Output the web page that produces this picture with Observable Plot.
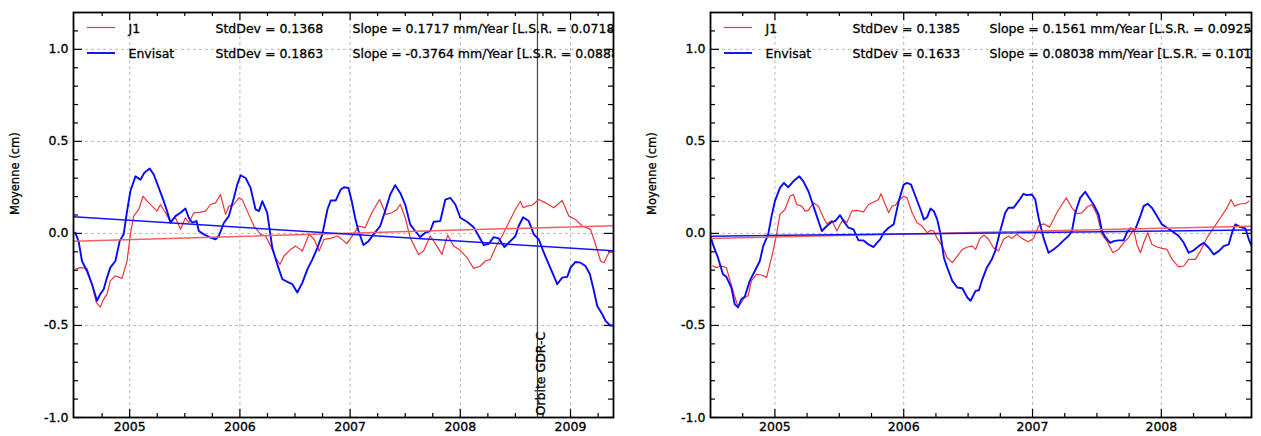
<!DOCTYPE html>
<html><head><meta charset="utf-8">
<script src="https://cdn.jsdelivr.net/npm/d3@7"></script>
<script src="https://cdn.jsdelivr.net/npm/@observablehq/plot@0.6"></script>
<style>
html,body{margin:0;padding:0;background:#fff;}
#wrap{display:flex;width:1261px;height:436px;overflow:hidden;}
#wrap svg{display:block;}
</style></head><body><div id="wrap"></div>
<script>
// ---------- DATA ----------
const seriesNames = ["J1", "Envisat"];
const xTickYearsLeft = [2005, 2006, 2007, 2008, 2009];
const xTickYearsRight = [2005, 2006, 2007, 2008];
const yTickValues = [-1.0, -0.5, 0.0, 0.5, 1.0];

const stdDevLeft = [0.1368, 0.1863];
const slopeLeft = [0.1717, -0.3764];      // mm/Year
const lsrLeft = ["0.07189]", "0.0888]"];
const stdDevRight = [0.1385, 0.1633];
const slopeRight = [0.1561, 0.08038];     // mm/Year
const lsrRight = ["0.09254]", "0.1012]"];

const trendStartLeft = [-0.042, 0.090];   // cm at left edge
const trendStartRight = [-0.027, -0.015];

const orbitChangeYear = 2008.70;
const orbitLabel = "Orbite GDR-C";

const j1Left = [[2004.506,-0.195],[2004.552,-0.186],[2004.612,-0.19],[2004.658,-0.276],[2004.697,-0.375],[2004.733,-0.40],[2004.764,-0.357],[2004.794,-0.33],[2004.824,-0.258],[2004.870,-0.23],[2004.930,-0.244],[2004.976,-0.15],[2005.006,-0.005],[2005.036,0.094],[2005.082,0.13],[2005.121,0.202],[2005.158,0.175],[2005.203,0.148],[2005.248,0.121],[2005.279,0.157],[2005.324,0.112],[2005.370,0.067],[2005.415,0.085],[2005.461,0.022],[2005.506,0.085],[2005.536,0.058],[2005.582,0.112],[2005.642,0.116],[2005.688,0.121],[2005.733,0.157],[2005.779,0.166],[2005.824,0.211],[2005.870,0.103],[2005.900,0.148],[2005.945,0.157],[2005.991,0.193],[2006.021,0.184],[2006.067,0.121],[2006.127,0.04],[2006.188,-0.005],[2006.233,-0.014],[2006.279,-0.069],[2006.324,-0.132],[2006.364,-0.168],[2006.400,-0.123],[2006.461,-0.087],[2006.506,-0.069],[2006.567,-0.096],[2006.627,-0.005],[2006.673,-0.032],[2006.718,-0.096],[2006.764,-0.032],[2006.824,-0.027],[2006.885,-0.014],[2006.945,-0.042],[2006.970,-0.056],[2007.030,-0.005],[2007.076,0.04],[2007.136,0.031],[2007.197,0.112],[2007.267,0.184],[2007.327,0.103],[2007.379,0.112],[2007.424,0.13],[2007.455,0.157],[2007.500,0.085],[2007.545,-0.023],[2007.621,-0.114],[2007.667,-0.096],[2007.727,-0.014],[2007.788,-0.069],[2007.833,-0.114],[2007.885,-0.009],[2007.939,-0.069],[2008.000,-0.092],[2008.061,-0.132],[2008.121,-0.19],[2008.182,-0.177],[2008.227,-0.15],[2008.273,-0.141],[2008.318,-0.078],[2008.379,-0.014],[2008.439,0.058],[2008.500,0.13],[2008.545,0.175],[2008.570,0.139],[2008.606,0.148],[2008.652,0.153],[2008.712,0.184],[2008.773,0.166],[2008.848,0.139],[2008.924,0.179],[2008.985,0.094],[2009.045,0.076],[2009.106,0.04],[2009.182,0.022],[2009.227,-0.06],[2009.273,-0.15],[2009.303,-0.159],[2009.348,-0.105],[2009.394,-0.092]];

const envisatLeft = [[2004.506,0.004],[2004.536,-0.042],[2004.567,-0.15],[2004.612,-0.204],[2004.658,-0.276],[2004.703,-0.366],[2004.733,-0.33],[2004.764,-0.303],[2004.794,-0.24],[2004.824,-0.186],[2004.870,-0.15],[2004.909,-0.042],[2004.945,-0.005],[2004.976,0.121],[2005.006,0.229],[2005.052,0.31],[2005.097,0.292],[2005.133,0.329],[2005.182,0.352],[2005.218,0.32],[2005.264,0.247],[2005.309,0.175],[2005.339,0.121],[2005.370,0.058],[2005.415,0.094],[2005.461,0.112],[2005.506,0.135],[2005.536,0.085],[2005.567,0.058],[2005.606,0.067],[2005.627,0.013],[2005.673,-0.005],[2005.733,-0.023],[2005.779,-0.032],[2005.809,-0.014],[2005.855,0.058],[2005.900,0.094],[2005.945,0.193],[2005.976,0.265],[2006.006,0.316],[2006.052,0.301],[2006.097,0.247],[2006.142,0.13],[2006.173,0.121],[2006.203,0.175],[2006.248,0.112],[2006.294,-0.078],[2006.339,-0.168],[2006.385,-0.249],[2006.445,-0.267],[2006.476,-0.276],[2006.521,-0.321],[2006.567,-0.267],[2006.612,-0.195],[2006.658,-0.141],[2006.703,-0.078],[2006.748,-0.005],[2006.794,0.13],[2006.824,0.179],[2006.870,0.179],[2006.915,0.238],[2006.945,0.251],[2006.985,0.247],[2007.015,0.175],[2007.045,0.085],[2007.076,0.013],[2007.121,-0.063],[2007.167,-0.042],[2007.212,-0.005],[2007.273,0.04],[2007.318,0.121],[2007.364,0.211],[2007.409,0.262],[2007.455,0.22],[2007.500,0.157],[2007.545,0.049],[2007.591,0.013],[2007.636,-0.02],[2007.682,0.004],[2007.727,0.013],[2007.758,0.063],[2007.818,0.067],[2007.864,0.184],[2007.909,0.193],[2007.955,0.157],[2008.000,0.085],[2008.061,0.063],[2008.121,0.034],[2008.167,-0.014],[2008.212,-0.063],[2008.258,-0.056],[2008.303,-0.02],[2008.348,-0.027],[2008.400,-0.074],[2008.455,-0.042],[2008.500,-0.014],[2008.530,0.04],[2008.570,0.088],[2008.621,0.067],[2008.667,-0.005],[2008.712,-0.032],[2008.758,-0.105],[2008.803,-0.168],[2008.848,-0.231],[2008.879,-0.276],[2008.924,-0.24],[2008.970,-0.236],[2009.000,-0.186],[2009.045,-0.155],[2009.091,-0.159],[2009.136,-0.177],[2009.176,-0.222],[2009.212,-0.312],[2009.242,-0.394],[2009.288,-0.439],[2009.318,-0.475],[2009.360,-0.5],[2009.390,-0.5]];

const j1Right = [[2004.519,-0.177],[2004.545,-0.186],[2004.584,-0.177],[2004.623,-0.186],[2004.649,-0.249],[2004.675,-0.312],[2004.714,-0.399],[2004.740,-0.375],[2004.766,-0.348],[2004.792,-0.339],[2004.818,-0.258],[2004.857,-0.222],[2004.896,-0.226],[2004.935,-0.24],[2004.974,-0.132],[2005.013,-0.005],[2005.039,0.103],[2005.078,0.13],[2005.117,0.202],[2005.143,0.211],[2005.169,0.157],[2005.208,0.148],[2005.234,0.121],[2005.260,0.125],[2005.299,0.166],[2005.338,0.148],[2005.377,0.085],[2005.403,0.052],[2005.442,0.07],[2005.481,0.013],[2005.506,0.049],[2005.532,0.076],[2005.558,0.058],[2005.597,0.121],[2005.636,0.125],[2005.688,0.117],[2005.727,0.157],[2005.779,0.175],[2005.805,0.184],[2005.823,0.215],[2005.857,0.157],[2005.883,0.112],[2005.909,0.148],[2005.935,0.153],[2005.961,0.179],[2006.000,0.202],[2006.026,0.193],[2006.065,0.112],[2006.104,0.058],[2006.143,0.04],[2006.182,0.004],[2006.208,0.016],[2006.234,0.013],[2006.260,-0.027],[2006.299,-0.069],[2006.338,-0.132],[2006.377,-0.159],[2006.416,-0.123],[2006.455,-0.087],[2006.494,-0.074],[2006.532,-0.069],[2006.558,-0.087],[2006.593,-0.027],[2006.624,-0.009],[2006.658,-0.032],[2006.697,-0.078],[2006.736,-0.096],[2006.775,-0.032],[2006.813,-0.014],[2006.839,-0.027],[2006.878,-0.005],[2006.917,-0.027],[2006.969,-0.045],[2007.008,-0.027],[2007.047,0.04],[2007.085,0.052],[2007.132,0.034],[2007.189,0.112],[2007.228,0.157],[2007.262,0.193],[2007.306,0.139],[2007.345,0.107],[2007.383,0.112],[2007.422,0.143],[2007.461,0.157],[2007.500,0.103],[2007.539,-0.005],[2007.578,-0.042],[2007.624,-0.105],[2007.668,-0.087],[2007.707,-0.051],[2007.746,-0.023],[2007.785,0.022],[2007.811,-0.06],[2007.837,-0.105],[2007.863,-0.051],[2007.894,0.004],[2007.927,-0.06],[2007.966,-0.074],[2008.005,-0.081],[2008.044,-0.087],[2008.083,-0.141],[2008.135,-0.182],[2008.174,-0.177],[2008.212,-0.141],[2008.264,-0.141],[2008.303,-0.096],[2008.355,-0.023],[2008.407,0.031],[2008.459,0.085],[2008.510,0.139],[2008.541,0.184],[2008.567,0.148],[2008.614,0.161],[2008.653,0.161],[2008.679,0.175]];

const envisatRight = [[2004.499,-0.014],[2004.519,-0.06],[2004.558,-0.132],[2004.597,-0.222],[2004.623,-0.236],[2004.662,-0.294],[2004.688,-0.384],[2004.714,-0.402],[2004.740,-0.357],[2004.766,-0.344],[2004.805,-0.258],[2004.844,-0.204],[2004.883,-0.15],[2004.909,-0.069],[2004.948,-0.005],[2004.974,0.094],[2005.000,0.175],[2005.039,0.247],[2005.070,0.274],[2005.104,0.251],[2005.143,0.283],[2005.190,0.31],[2005.221,0.283],[2005.260,0.229],[2005.299,0.148],[2005.338,0.067],[2005.364,0.013],[2005.403,0.04],[2005.442,0.063],[2005.468,0.067],[2005.506,0.099],[2005.532,0.067],[2005.571,0.031],[2005.610,0.022],[2005.649,-0.038],[2005.688,-0.038],[2005.727,-0.06],[2005.766,-0.074],[2005.792,-0.051],[2005.818,-0.032],[2005.844,0.004],[2005.883,0.031],[2005.922,0.049],[2005.961,0.175],[2006.000,0.265],[2006.026,0.274],[2006.057,0.265],[2006.091,0.202],[2006.130,0.13],[2006.156,0.076],[2006.182,0.088],[2006.208,0.135],[2006.234,0.121],[2006.260,0.076],[2006.286,-0.005],[2006.312,-0.132],[2006.338,-0.186],[2006.377,-0.258],[2006.416,-0.294],[2006.455,-0.298],[2006.494,-0.348],[2006.519,-0.366],[2006.558,-0.312],[2006.584,-0.309],[2006.606,-0.258],[2006.645,-0.186],[2006.684,-0.141],[2006.710,-0.096],[2006.749,0.013],[2006.788,0.112],[2006.813,0.139],[2006.852,0.139],[2006.891,0.175],[2006.930,0.215],[2006.956,0.208],[2006.995,0.211],[2007.021,0.184],[2007.047,0.085],[2007.085,-0.023],[2007.124,-0.105],[2007.163,-0.087],[2007.202,-0.065],[2007.241,-0.038],[2007.280,-0.014],[2007.306,0.013],[2007.332,0.112],[2007.370,0.193],[2007.409,0.226],[2007.448,0.184],[2007.474,0.157],[2007.513,0.103],[2007.539,0.013],[2007.565,-0.02],[2007.604,-0.051],[2007.630,-0.042],[2007.668,-0.038],[2007.707,-0.038],[2007.733,0.004],[2007.759,0.027],[2007.798,0.022],[2007.837,0.094],[2007.863,0.148],[2007.894,0.161],[2007.927,0.139],[2007.966,0.094],[2008.005,0.049],[2008.044,0.031],[2008.083,0.013],[2008.135,-0.014],[2008.174,-0.051],[2008.212,-0.105],[2008.251,-0.092],[2008.290,-0.069],[2008.329,-0.051],[2008.368,-0.078],[2008.407,-0.114],[2008.446,-0.096],[2008.484,-0.069],[2008.523,-0.06],[2008.549,0.004],[2008.575,0.049],[2008.614,0.034],[2008.653,0.027],[2008.679,-0.032],[2008.697,-0.063]];

// ---------- STYLE ----------
const FONT = "'DejaVu Sans', sans-serif";
const colors = ["#ee3535", "#0a0afa"];
const trendColors = ["#f06060", "#1414f5"];
const widths = [1.2, 1.9];
const bolden = {fill: "black", stroke: "black", strokeWidth: 0.3};

function panel(o) {
  const H = 436, mt = 12, mb = 19;
  const fh = H - mt - mb, fw = o.width - o.ml - o.mr;
  const [x0, x1] = o.xDomain;
  const minorX = d3.range(Math.ceil(x0 * 4), Math.floor(x1 * 4) + 1).map(q => q / 4)
    .filter(v => v % 1 !== 0 && v - x0 > 0.03 && x1 - v > 0.03);
  const minorY = d3.range(-9, 12).filter(i => i % 5 !== 0).map(i => i / 10);
  const grid = {stroke: "#b8b8b8", strokeWidth: 1, strokeDasharray: "3,3"};
  const tk = {stroke: "black", strokeWidth: 1.2};

  const trendData = [0, 1].map(i => [
    {x: x0, y: o.trendStart[i]},
    {x: x1, y: o.trendStart[i] + o.slope[i] / 10 * (x1 - x0)}
  ]);

  const legendRows = [16, 41.5];
  const legendLines = (index, scales, values, dims) => {
    const g = d3.create("svg:g");
    [0, 1].forEach(i => {
      g.append("line")
        .attr("x1", dims.marginLeft + 14).attr("x2", dims.marginLeft + 42)
        .attr("y1", dims.marginTop + legendRows[i] - 0.5).attr("y2", dims.marginTop + legendRows[i] - 0.5)
        .attr("stroke", colors[i]).attr("stroke-width", widths[i]);
    });
    return g.node();
  };

  const legendTexts = [];
  [0, 1].forEach(i => {
    const cols = [
      [55, seriesNames[i]],
      [142, `StdDev = ${o.stdDev[i]}`],
      [279, `Slope = ${o.slope[i]} mm/Year [L.S.R. = ${o.lsr[i]}`]
    ];
    cols.forEach(([dx, t]) => legendTexts.push(
      Plot.text([t], {text: d => d, frameAnchor: "top-left", dx, dy: legendRows[i],
        textAnchor: "start", lineAnchor: "middle", fontSize: 12.5, ...bolden, clip: true})
    ));
  });

  const marks = [
    Plot.ruleX(o.xTicks, {x: d => d, ...grid}),
    Plot.ruleY(yTickValues.filter(v => v > -1), {y: d => d, ...grid}),
    // inward ticks
    Plot.ruleX(o.xTicks, {x: d => d, insetTop: fh - 8, ...tk}),
    Plot.ruleX(o.xTicks, {x: d => d, insetBottom: fh - 8, ...tk}),
    Plot.ruleX(minorX, {x: d => d, insetTop: fh - 4, ...tk}),
    Plot.ruleX(minorX, {x: d => d, insetBottom: fh - 4, ...tk}),
    Plot.ruleY(yTickValues, {y: d => d, insetRight: fw - 9, ...tk}),
    Plot.ruleY(yTickValues, {y: d => d, insetLeft: fw - 9, ...tk}),
    Plot.ruleY(minorY, {y: d => d, insetRight: fw - 5, ...tk}),
    Plot.ruleY(minorY, {y: d => d, insetLeft: fw - 5, ...tk}),
    // tick labels
    Plot.text(o.xTicks, {x: d => d, text: d => String(d), frameAnchor: "bottom", lineAnchor: "top", dy: 5, fontSize: 12.5, ...bolden}),
    Plot.text(yTickValues, {y: d => d, text: d => d.toFixed(1), frameAnchor: "left", textAnchor: "end", dx: -5, fontSize: 12.5, ...bolden}),
    Plot.text(["Moyenne (cm)"], {text: d => d, frameAnchor: "left", dx: -58, rotate: -90, fontSize: 11.5, ...bolden}),
  ];
  if (o.orbit) {
    marks.push(Plot.ruleX([orbitChangeYear], {x: d => d, stroke: "#444", strokeWidth: 1.2}));
    marks.push(Plot.text([orbitLabel], {x: () => orbitChangeYear, text: d => d, frameAnchor: "bottom",
      rotate: -90, textAnchor: "start", dx: 8, dy: -2, fontSize: 12.5, ...bolden}));
  }
  marks.push(
    Plot.line(o.j1, {x: d => d[0], y: d => d[1], stroke: colors[0], strokeWidth: widths[0], clip: true}),
    Plot.line(o.env, {x: d => d[0], y: d => d[1], stroke: colors[1], strokeWidth: widths[1], clip: true}),
    Plot.line(trendData[0], {x: "x", y: "y", stroke: trendColors[0], strokeWidth: 1.5, clip: true}),
    Plot.line(trendData[1], {x: "x", y: "y", stroke: trendColors[1], strokeWidth: 1.5, clip: true}),
    legendLines,
    ...legendTexts,
    Plot.frame({stroke: "black", strokeWidth: 1.8})
  );

  return Plot.plot({
    width: o.width, height: H,
    marginLeft: o.ml, marginRight: o.mr, marginTop: mt, marginBottom: mb,
    style: {fontFamily: FONT, fontSize: "12.5px", background: "white", color: "black", overflow: "visible"},
    x: {domain: o.xDomain, axis: null},
    y: {domain: [-1, 1.2], axis: null},
    marks
  });
}

const wrap = document.getElementById("wrap");
wrap.appendChild(panel({
  width: 630, ml: 73, mr: 17, xDomain: [2004.49, 2009.39], xTicks: xTickYearsLeft,
  j1: j1Left, env: envisatLeft, trendStart: trendStartLeft, slope: slopeLeft,
  stdDev: stdDevLeft, lsr: lsrLeft, orbit: true
}));
wrap.appendChild(panel({
  width: 631, ml: 80, mr: 10, xDomain: [2004.50, 2008.70], xTicks: xTickYearsRight,
  j1: j1Right, env: envisatRight, trendStart: trendStartRight, slope: slopeRight,
  stdDev: stdDevRight, lsr: lsrRight, orbit: false
}));
</script>
</body></html>
